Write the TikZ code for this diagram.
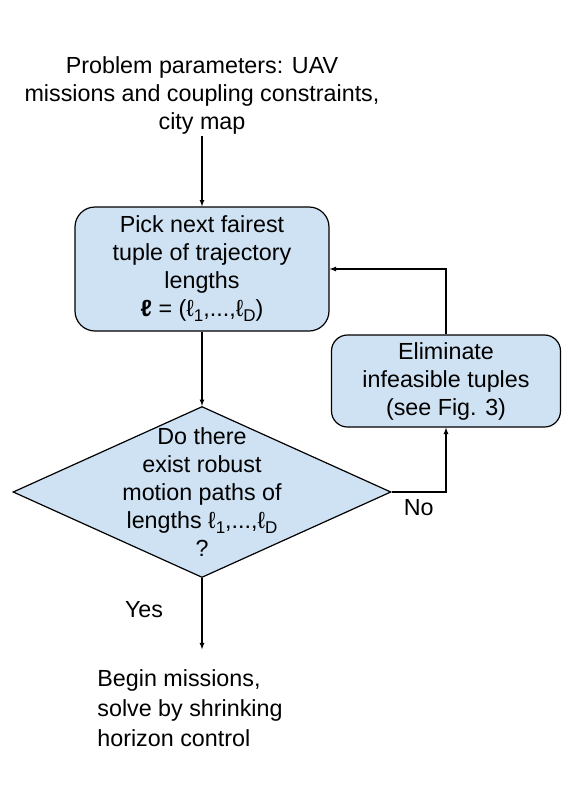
\documentclass[tikz,border=0pt]{standalone}
\usepackage{fontspec}
\setmainfont{Liberation Sans}
\usepackage{tikz}
\usetikzlibrary{positioning}
\usetikzlibrary{shapes}
\usetikzlibrary{shapes.geometric}
\usepackage{xcolor}
\definecolor{boxblue}{HTML}{CFE2F3}
\newcommand{\flowfont}{\fontsize{23.3}{28}\selectfont}
\newcommand{\ellsub}[1]{ℓ\raisebox{-5pt}{\fontsize{17}{17}\selectfont #1}}

\begin{document}
\begin{tikzpicture}[x=1pt,y=1pt,line width=1.2pt]
          \useasboundingbox (0,0) rectangle (581,-812);
          \begin{scope}[every node/.style={font=\flowfont,align=center,inner sep=2pt}]
            \node (params) at (202, -95) {Problem parameters: UAV\\missions and coupling constraints,\\city map};
            \node[draw,fill=boxblue,rectangle,rounded corners=20pt,minimum width=254pt,minimum height=124pt] (pick) at (202, -269) {Pick next fairest\\tuple of trajectory\\lengths\\\textbf{ℓ} = (\ellsub{1},...,\ellsub{D})};
            \node[draw,fill=boxblue,diamond,minimum width=378pt,minimum height=171pt,inner sep=0pt] (ask) at (202, -492) {};
            \node (asktext) at (ask.center) {Do there\\exist robust\\motion paths of\\lengths \ellsub{1},...,\ellsub{D}\\?};
            \node[draw,fill=boxblue,rectangle,rounded corners=16pt,minimum width=229pt,minimum height=92pt] (prune) at (446, -381) {Eliminate\\infeasible tuples\\(see Fig. 3)};
            \node[align=left,inner ysep=20pt,font=\fontsize{23.3}{30}\selectfont] (start) at (190, -708.5) {Begin missions,\\solve by shrinking\\horizon control};
          \end{scope}
          \begin{scope}[every path/.style={->},>=latex,every node/.style={font=\flowfont}]
            \draw (params) -- (pick);
            \draw (pick) -- (ask);
            \draw (ask) -| node[pos=0.25,below=4pt]{No} (prune);
            \draw (prune) |- (pick);
            \draw (ask) -- node[pos=0.44,left=35pt]{Yes} (ask.south |- start.north);
          \end{scope}
        \end{tikzpicture}
\end{document}
